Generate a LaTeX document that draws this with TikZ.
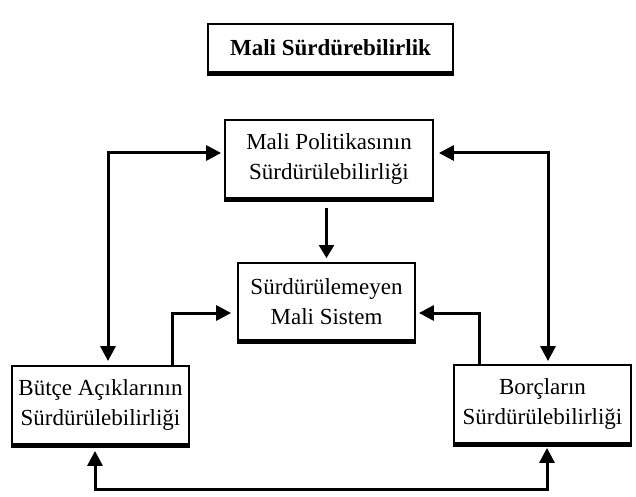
\documentclass[tikz,border=0pt]{standalone}
\usepackage{fontspec}
\setmainfont{Liberation Serif}
\usetikzlibrary{arrows.meta}
\begin{document}
\begin{tikzpicture}[x=1pt,y=-1pt,
  box/.style={draw,line width=1.8pt,fill=white,inner sep=0pt,align=center,
    font=\fontsize{23}{30}\selectfont},
  arr/.style={line width=3pt,-{Triangle[length=15pt,width=15pt]}},
  darr/.style={line width=3pt,{Triangle[length=15pt,width=15pt]}-{Triangle[length=15pt,width=15pt]}},
  shadowline/.style={line width=2.5pt}]
\useasboundingbox (0,0) rectangle (636,497);
\node[box,minimum width=245pt,minimum height=48pt,font=\fontsize{23}{30}\selectfont\bfseries] (title) at (330.5,48) {Mali Sürdürebilirlik};
\node[box,minimum width=208pt,minimum height=78pt] (pol) at (329,159) {Mali Politikasının\\Sürdürülebilirliği};
\node[box,minimum width=177pt,minimum height=77pt] (sis) at (326.5,301.5) {Sürdürülemeyen\\Mali Sistem};
\node[box,minimum width=177pt,minimum height=78pt] (but) at (100.5,405) {Bütçe Açıklarının\\Sürdürülebilirliği};
\node[box,minimum width=177pt,minimum height=78pt] (bor) at (542.5,404) {Borçların\\Sürdürülebilirliği};
\foreach \n in {title,pol,sis,but,bor}
  \draw[shadowline] ([yshift=-1.5pt]\n.south west) -- ([yshift=-1.5pt]\n.south east);
% corner coordinates
\coordinate (c1) at (108,153);
\coordinate (c2) at (548,153);
\coordinate (c3) at (172,313);
\coordinate (c4) at (479,313);
\coordinate (c5) at (95,489);
\coordinate (c6) at (547,489);
% connectors
\draw[darr] ([xshift=-3pt]pol.west |- c1) -- (c1) -- ([yshift=4pt]but.north -| c1);
\draw[darr] ([xshift=5pt]pol.east |- c2) -- (c2) -- ([yshift=3pt]bor.north -| c2);
\draw[line width=2.2pt,-{Triangle[length=13pt,width=15pt]}] ([yshift=-9pt]pol.south -| sis.north) -- ([yshift=4pt]sis.north);
\draw[arr] (but.north -| c3) -- (c3) -- ([xshift=-6pt]sis.west |- c3);
\draw[arr] (bor.north -| c4) -- (c4) -- ([xshift=3pt]sis.east |- c4);
\draw[darr] ([yshift=-6pt]but.south -| c5) -- (c5) -- (c6) -- ([yshift=-4pt]bor.south -| c6);
\end{tikzpicture}
\end{document}
